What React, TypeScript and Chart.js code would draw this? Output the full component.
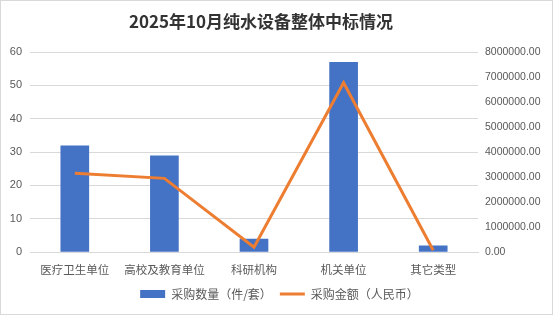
import React, { useEffect, useRef } from "react";
import { Chart, registerables } from "chart.js";

Chart.register(...registerables);

const categories = ["医疗卫生单位", "高校及教育单位", "科研机构", "机关单位", "其它类型"];
const quantities = [32, 29, 4, 57, 2];
const amounts = [3150000, 2950000, 200000, 6770000, 80000];
const titleText = "2025年10月纯水设备整体中标情况";
const barLabel = "采购数量（件/套）";
const lineLabel = "采购金额（人民币）";

const FONT = "'Noto Sans CJK SC', 'Microsoft YaHei', sans-serif";
const NUMFONT = "'Liberation Sans', Arial, sans-serif";

const titlePlugin = {
  id: "customTitle",
  afterDraw(chart: any) {
    const ctx = chart.ctx;
    ctx.save();
    ctx.font = `bold 17px ${FONT}`;
    ctx.fillStyle = "#333333";
    ctx.textAlign = "center";
    ctx.textBaseline = "middle";
    ctx.fillText(titleText, 260, 21);
    ctx.restore();
  },
};

export default function App() {
  const ref = useRef<HTMLCanvasElement | null>(null);

  useEffect(() => {
    document.body.style.margin = "0";
    const canvas = ref.current!;
    const chart = new Chart(canvas, {
      type: "bar",
      data: {
        labels: categories,
        datasets: [
          {
            type: "bar",
            label: barLabel,
            data: quantities,
            backgroundColor: "#4472C4",
            borderWidth: 0,
            barPercentage: 0.32,
            categoryPercentage: 1,
            yAxisID: "y",
            order: 2,
            pointStyle: "rect",
          } as any,
          {
            type: "line",
            label: lineLabel,
            data: amounts,
            borderColor: "#ED7D31",
            backgroundColor: "#ED7D31",
            borderWidth: 3,
            pointRadius: 0,
            pointStyle: "line",
            tension: 0,
            yAxisID: "y1",
            order: 1,
          } as any,
        ],
      },
      plugins: [titlePlugin],
      options: {
        responsive: false,
        animation: false,
        layout: { padding: { left: 6, right: 0, top: 51, bottom: 4 } },
        plugins: {
          title: { display: false },
          legend: {
            position: "bottom",
            labels: {
              usePointStyle: true,
              pointStyleWidth: 25,
              boxHeight: 8,
              color: "#595959",
              font: { family: FONT, size: 12 },
              padding: 8,
              sort: (a: any, b: any) => a.datasetIndex - b.datasetIndex,
            },
          },
          tooltip: { enabled: false },
        },
        scales: {
          x: {
            grid: { display: false },
            border: { display: true, color: "#d9d9d9", width: 1 },
            ticks: {
              color: "#595959",
              font: { family: FONT, size: 11.5 },
              maxRotation: 0,
              autoSkip: false,
            },
          },
          y: {
            position: "left",
            min: 0,
            max: 60,
            afterFit: (s: any) => { s.width = 23; },
            ticks: {
              stepSize: 10,
              padding: 8,
              color: "#595959",
              font: { family: NUMFONT, size: 11 },
            },
            grid: { color: "#d9d9d9", drawTicks: false },
            border: { display: false },
          },
          y1: {
            position: "right",
            min: 0,
            max: 8000000,
            afterFit: (s: any) => { s.width = 74; },
            ticks: {
              stepSize: 1000000,
              padding: 7,
              color: "#595959",
              font: { family: NUMFONT, size: 10.5 },
              callback: (v: any) => Number(v).toFixed(2),
            },
            grid: { display: false, drawTicks: false },
            border: { display: false },
          },
        },
      },
    });
    return () => chart.destroy();
  }, []);

  return (
    <div style={{ width: 553, height: 315, boxSizing: "border-box", border: "1px solid #d9d9d9", background: "#fff" }}>
      <canvas ref={ref} width={551} height={313} />
    </div>
  );
}
